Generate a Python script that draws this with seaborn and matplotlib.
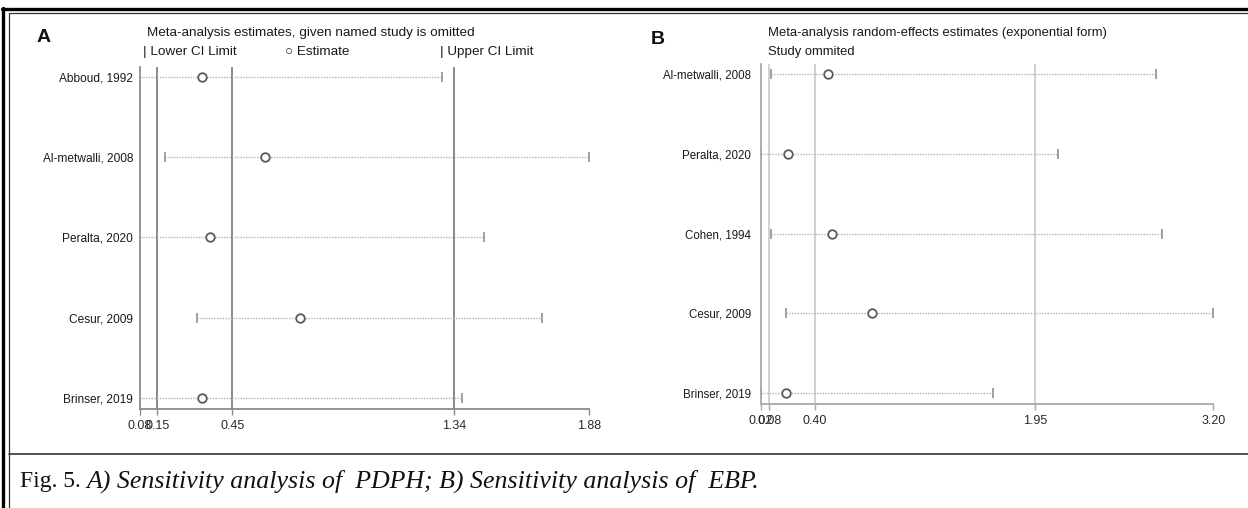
import numpy as np
import pandas as pd
import matplotlib
matplotlib.use("Agg")
import matplotlib.pyplot as plt
import seaborn as sns
from matplotlib.lines import Line2D
from matplotlib.ticker import FixedLocator, FixedFormatter

# ---------------- data ----------------
studies_a = ["Abboud, 1992", "Al-metwalli, 2008", "Peralta, 2020", "Cesur, 2009", "Brinser, 2019"]
lower_a = [0.08, 0.18, 0.08, 0.31, 0.08]
est_a = [0.33, 0.58, 0.36, 0.72, 0.33]
upper_a = [1.29, 1.88, 1.46, 1.69, 1.37]
overall_a = [0.15, 0.45, 1.34]
ticks_a = [0.08, 0.15, 0.45, 1.34, 1.88]

studies_b = ["Al-metwalli, 2008", "Peralta, 2020", "Cohen, 1994", "Cesur, 2009", "Brinser, 2019"]
lower_b = [0.09, 0.02, 0.09, 0.20, 0.02]
est_b = [0.49, 0.21, 0.52, 0.80, 0.20]
upper_b = [2.80, 2.11, 2.84, 3.20, 1.65]
overall_b = [0.08, 0.40, 1.95]
ticks_b = [0.02, 0.08, 0.40, 1.95, 3.20]

caption_plain = "Fig. 5. "
caption_italic = "A) Sensitivity analysis of  PDPH; B) Sensitivity analysis of  EBP."

# ---------------- figure ----------------
sns.set_theme(style="white")
plt.rcParams["font.family"] = ["Liberation Sans", "DejaVu Sans"]

W, H = 1248, 508
fig = plt.figure(figsize=(W / 100, H / 100), dpi=100)
fig.patch.set_facecolor("white")


def fx(x):
    return x / W


def fy(y):
    return 1 - y / H


def panel(rect, studies, lo, est, hi, overall, ticks, vcolor, spcolor, vlw,
          ylab_size, ylab_pad, ylab_family):
    ax = fig.add_axes(rect)
    df = pd.DataFrame({"study": studies, "lo": lo, "est": est, "hi": hi,
                       "pos": np.arange(len(studies))})
    for v in overall:
        ax.axvline(v, color=vcolor, lw=vlw, zorder=1)
    ax.hlines(df["pos"], df["lo"], df["hi"], colors="#b5b5b5",
              linestyles=(0, (1, 1)), lw=1.0, zorder=2)
    sns.scatterplot(data=df, x="lo", y="pos", marker="|", s=60, color="#a0a0a0",
                    linewidth=1.4, ax=ax, legend=False, zorder=3)
    sns.scatterplot(data=df, x="hi", y="pos", marker="|", s=60, color="#a0a0a0",
                    linewidth=1.4, ax=ax, legend=False, zorder=3)
    sns.scatterplot(data=df, x="est", y="pos", marker="o", s=38, facecolor="white",
                    edgecolor="#5a5a5a", linewidth=1.3, ax=ax, legend=False, zorder=4)
    ax.set_xlim(ticks[0], ticks[-1])
    n = len(studies)
    ax.set_ylim(n - 1 + 0.1375, -0.125)
    ax.set_yticks(df["pos"])
    ax.set_yticklabels(studies, family=ylab_family)
    ax.xaxis.set_major_locator(FixedLocator(ticks))
    ax.xaxis.set_major_formatter(FixedFormatter([f"{t:.2f}" for t in ticks]))
    ax.tick_params(axis="x", direction="out", length=4, width=1.0, color=spcolor,
                   labelsize=9, labelcolor="#2a2a2a", pad=4, bottom=True)
    ax.tick_params(axis="y", length=0, labelsize=ylab_size, labelcolor="#1a1a1a", pad=ylab_pad)
    ax.set_xlabel("")
    ax.set_ylabel("")
    for s in ["top", "right"]:
        ax.spines[s].set_visible(False)
    for s in ["left", "bottom"]:
        ax.spines[s].set_color(spcolor)
        ax.spines[s].set_linewidth(1.3)
    ax.set_facecolor("white")
    return ax


# Panel A: x 140..589 px, y 67..409 px
axA = panel([fx(140), fy(409), (589 - 140) / W, (409 - 67) / H],
            studies_a, lower_a, est_a, upper_a, overall_a, ticks_a,
            vcolor="#8a8a8a", spcolor="#8a8a8a", vlw=1.4, ylab_size=8.6, ylab_pad=5,
            ylab_family=["Liberation Sans Narrow", "Liberation Sans", "DejaVu Sans"])
# Panel B: x 760.7..1213.3 px, y 64..404 px
axB = panel([fx(760.7), fy(404), (1213.3 - 760.7) / W, (404 - 64) / H],
            studies_b, lower_b, est_b, upper_b, overall_b, ticks_b,
            vcolor="#c8c8c8", spcolor="#a8a8a8", vlw=1.2, ylab_size=8.3, ylab_pad=7,
            ylab_family=["Liberation Sans", "DejaVu Sans"])

# ---------------- panel texts ----------------
tc = "#1a1a1a"
fig.text(fx(37), fy(38), "A", fontsize=14, fontweight="bold", va="center", ha="left", color="#111")
fig.text(fx(147), fy(33), "Meta-analysis estimates, given named study is omitted",
         fontsize=9.7, va="center", ha="left", color=tc)
fig.text(fx(143), fy(52), "| Lower CI Limit", fontsize=9.7, va="center", ha="left", color=tc)
fig.text(fx(285), fy(52), "\u25cb Estimate", fontsize=9.7, va="center", ha="left", color=tc)
fig.text(fx(440), fy(52), "| Upper CI Limit", fontsize=9.7, va="center", ha="left", color=tc)

fig.text(fx(651), fy(40), "B", fontsize=14, fontweight="bold", va="center", ha="left", color="#111")
fig.text(fx(768), fy(33), "Meta-analysis random-effects estimates (exponential form)",
         fontsize=9.4, va="center", ha="left", color=tc)
fig.text(fx(768), fy(52), "Study ommited", fontsize=9.4, va="center", ha="left", color=tc)

# ---------------- frame ----------------
fig.add_artist(Line2D([fx(2), fx(W)], [fy(8.5), fy(8.5)], color="black", lw=2.4))
fig.add_artist(Line2D([fx(9), fx(W)], [fy(12.5), fy(12.5)], color="#333", lw=0.9))
fig.add_artist(Line2D([fx(2.5), fx(2.5)], [fy(7.5), fy(H)], color="black", lw=2.4))
fig.add_artist(Line2D([fx(9), fx(9)], [fy(12.5), fy(H)], color="#333", lw=0.9))
fig.add_artist(Line2D([fx(9), fx(W)], [fy(454), fy(454)], color="#444", lw=1.3))

# ---------------- caption ----------------
t1 = fig.text(fx(20), fy(481), caption_plain, fontsize=17, family="Liberation Serif",
              va="center", ha="left", color="#111")
fig.canvas.draw()
bb = t1.get_window_extent()
fig.text(bb.x1 / W, fy(481), caption_italic, fontsize=18.6, family="Liberation Serif",
         style="italic", va="center", ha="left", color="#111")

fig.savefig("out.png", dpi=100, facecolor="white")
